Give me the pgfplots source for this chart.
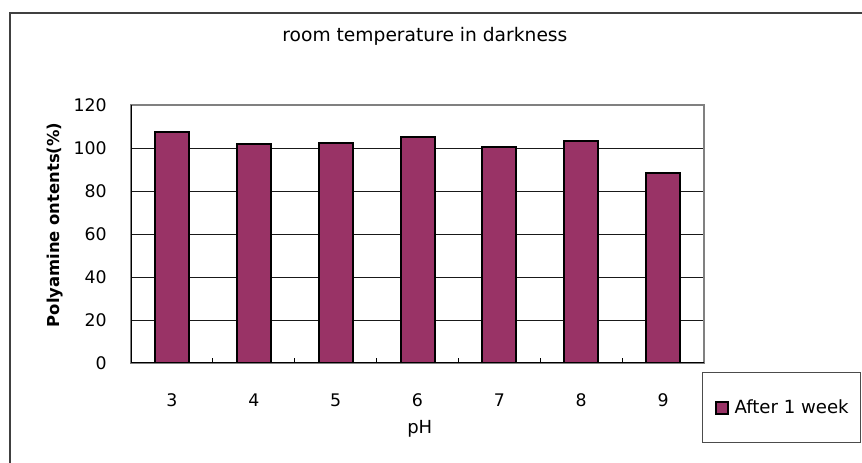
\documentclass[border=0pt]{standalone}
\usepackage{pgfplots}
\pgfplotsset{compat=1.18}
\usepackage{fontspec}
\setmainfont{DejaVu Sans}
\definecolor{plum}{HTML}{993366}
\begin{document}
\begin{tikzpicture}
\useasboundingbox (0,0) rectangle (646.5pt,347.25pt);
\fill[white] (0,0) rectangle (646.5pt,347.25pt);
\draw[black!75, line width=1.1pt] (7.5pt,-10pt) -- (7.5pt,337.5pt) -- (700pt,337.5pt);
\begin{axis}[
  at={(98.25pt,75pt)}, anchor=south west,
  scale only axis, width=429.75pt, height=193.5pt,
  xmin=2.5, xmax=9.5, ymin=0, ymax=120,
  enlargelimits=false,
  ybar, bar width=25.5pt,
  xtick={3,4,5,6,7,8,9},
  xticklabels={3,4,5,6,7,8,9},
  xtick style={draw=none},
  extra x ticks={3.5,4.5,5.5,6.5,7.5,8.5},
  extra x tick labels={},
  extra x tick style={xtick style={draw=black, line width=0.75pt}, major tick length=3.75pt, tick align=inside, xtick pos=bottom, grid=none},
  xtick pos=bottom,
  ytick={0,20,40,60,80,100,120},
  ytick style={draw=none},
  ymajorgrids,
  major grid style={black!90, line width=0.6pt},
  axis line style={draw=black!50, line width=1.1pt},
  /pgf/number format/assume math mode=true,
  ticklabel style={font=\fontsize{13}{15}\selectfont, inner sep=0pt},
  xticklabel style={anchor=north, yshift=-18.75pt},
  yticklabel style={anchor=east, xshift=-18pt},
  title={room temperature in darkness},
  title style={font=\fontsize{14}{16}\selectfont, at={(axis description cs:0.513,1.2364)}, anchor=center},
  xlabel={pH},
  xlabel style={font=\fontsize{13.5}{16}\selectfont, at={(axis description cs:0.504,-0.2558)}, anchor=center},
  ylabel={Polyamine ontents(\%)},
  ylabel style={font=\bfseries\fontsize{12.3}{15}\selectfont, at={(axis description cs:-0.1326,0.535)}, anchor=center},
  legend style={at={(axis description cs:0.9965,-0.0349)}, anchor=north west,
    draw=black!70, line width=0.75pt, font=\fontsize{13.6}{16}\selectfont,
    inner xsep=9pt, inner ysep=20.5pt, nodes={inner sep=0pt}, column sep=4.5pt},
  legend image code/.code={\draw[#1, line width=1.5pt] (0.75pt,-4.5pt) rectangle (9.75pt,4.5pt);},
]
\addplot[fill=plum, draw=black, line width=1.5pt] coordinates {
  (3,107.6) (4,101.9) (5,102.2) (6,105.1) (7,100.6) (8,103.1) (9,88.2)
};
\addlegendentry{After 1 week}
\draw[black, line width=1.1pt] (rel axis cs:0,1) -- (rel axis cs:0,0) -- (rel axis cs:1,0);
\end{axis}
\end{tikzpicture}
\end{document}
